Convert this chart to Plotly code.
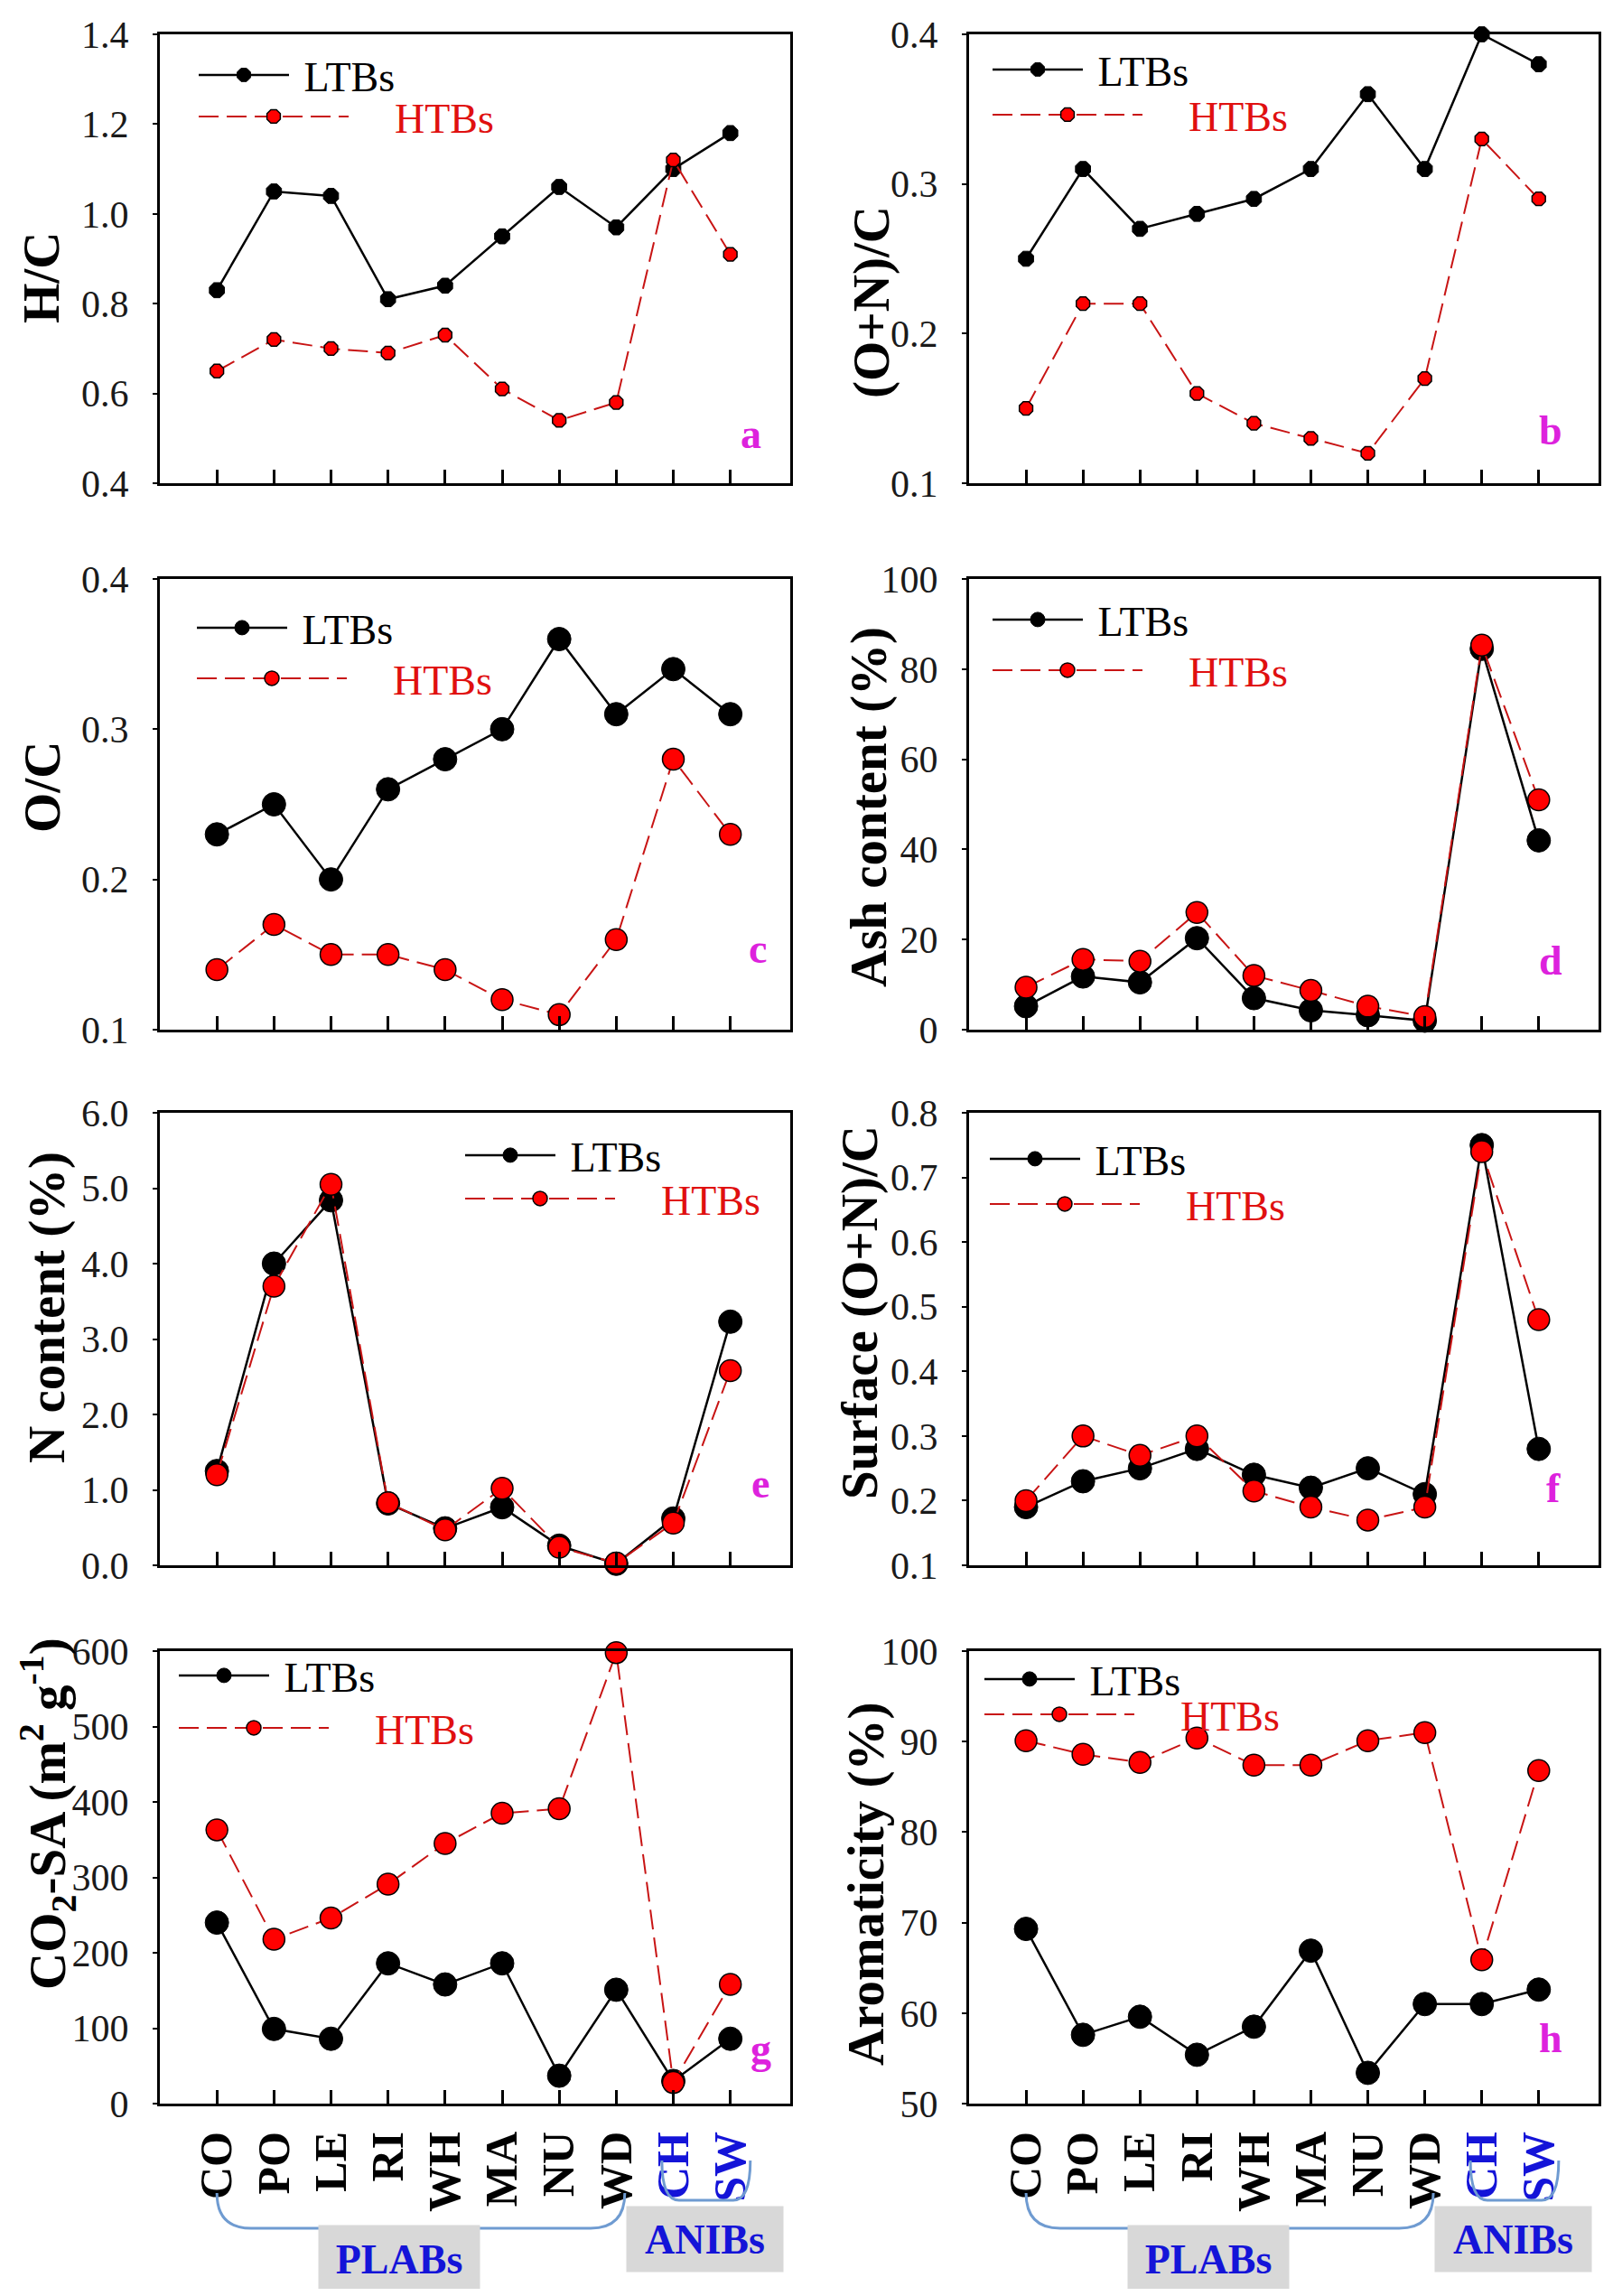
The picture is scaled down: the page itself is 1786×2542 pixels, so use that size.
import plotly.graph_objects as go

# ---------------- data ----------------
CATEGORIES = ["CO", "PO", "LE", "RI", "WH", "MA", "NU", "WD", "CH", "SW"]
PLANT_CATS = ["CO", "PO", "LE", "RI", "WH", "MA", "NU", "WD"]
ANIMAL_CATS = ["CH", "SW"]
X_IDX = list(range(len(CATEGORIES)))

HC_LTB = [0.83, 1.05, 1.04, 0.81, 0.84, 0.95, 1.06, 0.97, 1.10, 1.18]
HC_HTB = [0.65, 0.72, 0.70, 0.69, 0.73, 0.61, 0.54, 0.58, 1.12, 0.91]

ONC_LTB = [0.25, 0.31, 0.27, 0.28, 0.29, 0.31, 0.36, 0.31, 0.40, 0.38]
ONC_HTB = [0.15, 0.22, 0.22, 0.16, 0.14, 0.13, 0.12, 0.17, 0.33, 0.29]

OC_LTB = [0.23, 0.25, 0.20, 0.26, 0.28, 0.30, 0.36, 0.31, 0.34, 0.31]
OC_HTB = [0.14, 0.17, 0.15, 0.15, 0.14, 0.12, 0.11, 0.16, 0.28, 0.23]

ASH_LTB = [5.2, 11.8, 10.5, 20.3, 7.0, 4.3, 3.2, 2.0, 84.5, 42.0]
ASH_HTB = [9.4, 15.6, 15.2, 26.0, 12.0, 8.7, 5.2, 2.9, 85.3, 51.0]

N_LTB = [1.25, 4.00, 4.84, 0.82, 0.49, 0.77, 0.26, 0.02, 0.62, 3.23]
N_HTB = [1.20, 3.70, 5.05, 0.83, 0.47, 1.02, 0.24, 0.03, 0.56, 2.58]

SONC_LTB = [0.19, 0.23, 0.25, 0.28, 0.24, 0.22, 0.25, 0.21, 0.75, 0.28]
SONC_HTB = [0.20, 0.30, 0.27, 0.30, 0.215, 0.19, 0.17, 0.19, 0.74, 0.48]

SA_LTB = [240, 99, 86, 186, 158, 186, 37, 151, 30, 86]
SA_HTB = [363, 218, 246, 291, 345, 385, 391, 598, 28, 158]

AR_LTB = [69.3, 57.6, 59.6, 55.4, 58.5, 66.9, 53.4, 61.0, 61.0, 62.6]
AR_HTB = [90.1, 88.6, 87.7, 90.4, 87.4, 87.4, 90.1, 91.0, 65.9, 86.8]

Y_TITLES = ["H/C", "(O+N)/C", "O/C", "Ash content (%)", "N content (%)",
            "Surface (O+N)/C", "CO<sub>2</sub>-SA (m<sup>2</sup> g<sup>-1</sup>)",
            "Aromaticity (%)"]
PANEL_LETTERS = ["a", "b", "c", "d", "e", "f", "g", "h"]
Y_RANGES = [(0.4, 1.4), (0.1, 0.4), (0.1, 0.4), (0, 100), (0, 6), (0.1, 0.8), (0, 600), (50, 100)]
Y_DTICKS = [0.2, 0.1, 0.1, 20, 1, 0.1, 100, 10]
Y_FORMATS = [".1f", ".1f", ".1f", "d", ".1f", ".1f", "d", "d"]
GROUP_LABELS = ["PLABs", "ANIBs"]
SERIES_NAMES = ["LTBs", "HTBs"]

SERIES = [(HC_LTB, HC_HTB), (ONC_LTB, ONC_HTB), (OC_LTB, OC_HTB), (ASH_LTB, ASH_HTB),
          (N_LTB, N_HTB), (SONC_LTB, SONC_HTB), (SA_LTB, SA_HTB), (AR_LTB, AR_HTB)]

# ---------------- layout geometry (page pixels) ----------------
W, H = 1786, 2542
OFF = 8                      # default body margin of the html page
FW, FH = W - 2 * OFF, H - 2 * OFF
COLS = [(177, 875), (1073, 1770)]
ROWS = [(38, 535), (641, 1140), (1232, 1733), (1828, 2329)]


def px_x(v):
    return (v - OFF) / FW


def px_y(v):
    return 1 - (v - OFF) / FH


MARKER_L = [18, 18, 26, 26, 26, 26, 26, 26]
MARKER_H = [16, 16, 24, 24, 24, 24, 24, 24]
MARKER_SYM = ["octagon", "octagon", "circle", "circle", "circle", "circle", "circle", "circle"]
# legend rows: (sample start x, LTBs row y, HTBs row y)
LEG_ROWS = [(221, 83, 129), (1100, 77, 127), (219, 695, 751), (1100, 686, 742),
            (516, 1279, 1327), (1097, 1283, 1333), (199, 1855, 1913), (1091, 1859, 1898)]
TITLE_POS = [(46, 308), (965, 335), (46, 872), (962, 894), (52, 1448), (952, 1453),
             (52, 2008), (959, 2085)]
LETTER_POS = [(0.937, 0.11), (0.924, 0.117), (0.948, 0.18), (0.924, 0.154),
              (0.953, 0.18), (0.928, 0.17), (0.953, 0.12), (0.924, 0.144)]

FONT = "Liberation Serif, Times New Roman, DejaVu Serif, serif"
RED_LINE = "#C81414"
RED_FILL = "#FF0000"
MAGENTA = "#DD22DD"
BLUE = "#1414D8"

fig = go.Figure()
layout = dict(
    width=FW, height=FH, margin=dict(l=0, r=0, t=0, b=0, autoexpand=False),
    paper_bgcolor="white", plot_bgcolor="white",
    font=dict(family=FONT, color="black"),
    showlegend=True,
)
annotations = []
shapes = []

tick_text = ["<b>%s</b>" % c for c in PLANT_CATS] + \
            ["<b><span style='color:%s'>%s</span></b>" % (BLUE, c) for c in ANIMAL_CATS]

for i in range(8):
    sfx = "" if i == 0 else str(i + 1)
    row, col = divmod(i, 2)
    x0, x1 = COLS[col]
    y0, y1 = ROWS[row]
    ltb, htb = SERIES[i]
    leg_l = "legend" if i == 0 else "legend%d" % (2 * i + 1)
    leg_h = "legend%d" % (2 * i + 2)

    fig.add_trace(go.Scatter(
        x=X_IDX, y=ltb, mode="lines+markers",
        name="&nbsp;" + SERIES_NAMES[0],
        line=dict(color="black", width=2.5),
        marker=dict(symbol=MARKER_SYM[i], size=MARKER_L[i], color="black",
                    line=dict(color="black", width=1)),
        xaxis="x" + sfx, yaxis="y" + sfx, legend=leg_l, cliponaxis=False))
    fig.add_trace(go.Scatter(
        x=X_IDX, y=htb, mode="lines+markers",
        name="&nbsp;" * 4 + "<span style='color:#E01010'>%s</span>" % SERIES_NAMES[1],
        line=dict(color=RED_LINE, width=2, dash="22px,9px"),
        marker=dict(symbol=MARKER_SYM[i], size=MARKER_H[i], color=RED_FILL,
                    line=dict(color="black", width=1.5)),
        xaxis="x" + sfx, yaxis="y" + sfx, legend=leg_h, cliponaxis=False))

    bottom = row == 3
    xax = dict(
        domain=[px_x(x0), px_x(x1)], anchor="y" + sfx,
        range=[-1, 10.05], showgrid=False, zeroline=False, automargin=False,
        showline=True, mirror=True, linecolor="black", linewidth=3,
        ticks="inside", ticklen=15, tickwidth=2.5, tickcolor="black",
        tickmode="array", tickvals=X_IDX, showticklabels=bottom,
    )
    if bottom:
        xax.update(ticktext=tick_text, tickangle=-90, ticklabelstandoff=8,
                   tickfont=dict(family=FONT, size=50, color="black"))
    layout["xaxis" + sfx] = xax
    layout["yaxis" + sfx] = dict(
        domain=[px_y(y1), px_y(y0)], anchor="x" + sfx, automargin=False,
        range=list(Y_RANGES[i]), dtick=Y_DTICKS[i], tick0=Y_RANGES[i][0],
        tickformat=Y_FORMATS[i], showgrid=False, zeroline=False,
        showline=True, mirror=True, linecolor="black", linewidth=3,
        ticks="outside", ticklen=5, tickwidth=2, tickcolor="black",
        ticklabelstandoff=18,
        tickfont=dict(family=FONT, size=42, color="#1a1a1a"),
    )
    sx, ry_l, ry_h = LEG_ROWS[i]
    for key, ry, iw in [(leg_l, ry_l, 100), (leg_h, ry_h, 166)]:
        layout[key] = dict(
            x=px_x(sx - 6), y=px_y(ry), xanchor="left", yanchor="middle",
            xref="paper", yref="paper", bgcolor="rgba(0,0,0,0)",
            font=dict(family=FONT, size=46, color="black"),
            itemwidth=iw, traceorder="normal", tracegroupgap=0,
        )
    tx, ty = TITLE_POS[i]
    annotations.append(dict(
        text="<b>%s</b>" % Y_TITLES[i], textangle=-90, showarrow=False,
        xref="paper", yref="paper", x=px_x(tx), y=px_y(ty),
        xanchor="center", yanchor="middle",
        font=dict(family=FONT, size=57, color="black")))
    lxp, lyp = LETTER_POS[i]
    annotations.append(dict(
        text="<b>%s</b>" % PANEL_LETTERS[i], showarrow=False,
        xref="x%s domain" % sfx, yref="y%s domain" % sfx, x=lxp, y=lyp,
        xanchor="center", yanchor="middle",
        font=dict(family=FONT, size=46, color=MAGENTA)))

# group brackets and labels under the bottom panels
for sfx in ["7", "8"]:
    xr = "x" + sfx
    yt, yb = px_y(2428), px_y(2467)
    shapes.append(dict(
        type="path", xref=xr, yref="paper",
        path="M 0,%f Q 0,%f 0.6,%f L 6.55,%f Q 7.15,%f 7.15,%f" % (yt, yb, yb, yb, yb, yt),
        line=dict(color="#6F9BD1", width=3)))
    yt2, yb2 = px_y(2392), px_y(2436)
    shapes.append(dict(
        type="path", xref=xr, yref="paper",
        path="M 7.8,%f Q 7.8,%f 8.1,%f L 9.05,%f Q 9.35,%f 9.35,%f" % (yt2, yb2, yb2, yb2, yb2, yt2),
        line=dict(color="#6F9BD1", width=3)))
    annotations.append(dict(
        text="<b>%s</b>" % GROUP_LABELS[0], showarrow=False, xref=xr, yref="paper",
        x=3.2, y=px_y(2501), xanchor="center", yanchor="middle",
        width=176, height=72, bgcolor="#D8D8D8",
        font=dict(family=FONT, size=46, color=BLUE)))
    annotations.append(dict(
        text="<b>%s</b>" % GROUP_LABELS[1], showarrow=False, xref=xr, yref="paper",
        x=8.55, y=px_y(2479), xanchor="center", yanchor="middle",
        width=171, height=70, bgcolor="#D8D8D8",
        font=dict(family=FONT, size=46, color=BLUE)))

layout["annotations"] = annotations
layout["shapes"] = shapes
fig.update_layout(**layout)
fig.write_html("out.html")
